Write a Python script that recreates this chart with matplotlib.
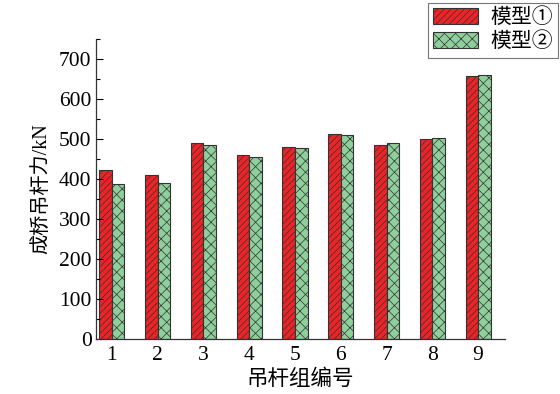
import numpy as np
import matplotlib
matplotlib.use("Agg")
import matplotlib.pyplot as plt
from matplotlib.ticker import MultipleLocator

plt.rcParams['font.family'] = ['Liberation Serif', 'Noto Sans CJK SC']
plt.rcParams['hatch.linewidth'] = 0.5

groups = ['1', '2', '3', '4', '5', '6', '7', '8', '9']
model1 = [422, 409, 491, 459, 480, 512, 486, 499, 658]
model2 = [387, 389, 484, 456, 477, 511, 489, 502, 661]
labels = ['模型①', '模型②']

fig = plt.figure(figsize=(5.6, 3.94), dpi=100)
ax = fig.add_axes([0.171, 0.1396, 0.731, 0.7614])

x = np.arange(1, len(groups) + 1)
w = 0.275
ax.bar(x - w / 2, model1, w, color='#ec2428', edgecolor='#333333',
       linewidth=0.8, hatch='/////', label=labels[0])
ax.bar(x + w / 2, model2, w, color='#8fcf9c', edgecolor='#333333',
       linewidth=0.8, hatch='xxx', label=labels[1])

ax.set_xlim(0.65, 9.59)
ax.set_ylim(0, 750)
ax.set_xticks(x)
ax.set_xticklabels(groups)
ax.yaxis.set_major_locator(MultipleLocator(100))
ax.yaxis.set_minor_locator(MultipleLocator(50))
ax.set_yticks([0, 100, 200, 300, 400, 500, 600, 700])
ax.tick_params(axis='x', length=0, labelsize=15.5, pad=5)
ax.tick_params(axis='y', which='major', direction='in', length=5, width=0.8,
               labelsize=15.5, pad=3)
ax.tick_params(axis='y', which='minor', direction='in', length=3, width=0.8)
for s in ['top', 'right']:
    ax.spines[s].set_visible(False)
for s in ['left', 'bottom']:
    ax.spines[s].set_linewidth(0.9)
    ax.spines[s].set_color('#333333')

ax.set_ylabel('成桥吊杆力/kN', fontsize=14.5, labelpad=5)
ax.set_xlabel('吊杆组编号', fontsize=15.5, labelpad=3.5)

leg = ax.legend(loc='upper right', bbox_to_anchor=(0.997, 0.992),
                bbox_transform=fig.transFigure, fontsize=15,
                frameon=True, fancybox=False, edgecolor='#555555',
                handlelength=2.15, handleheight=0.75, borderpad=0.25,
                labelspacing=0.2, handletextpad=0.6, borderaxespad=0.0)
leg.get_frame().set_linewidth(0.8)

fig.savefig('out.png', dpi=100)
